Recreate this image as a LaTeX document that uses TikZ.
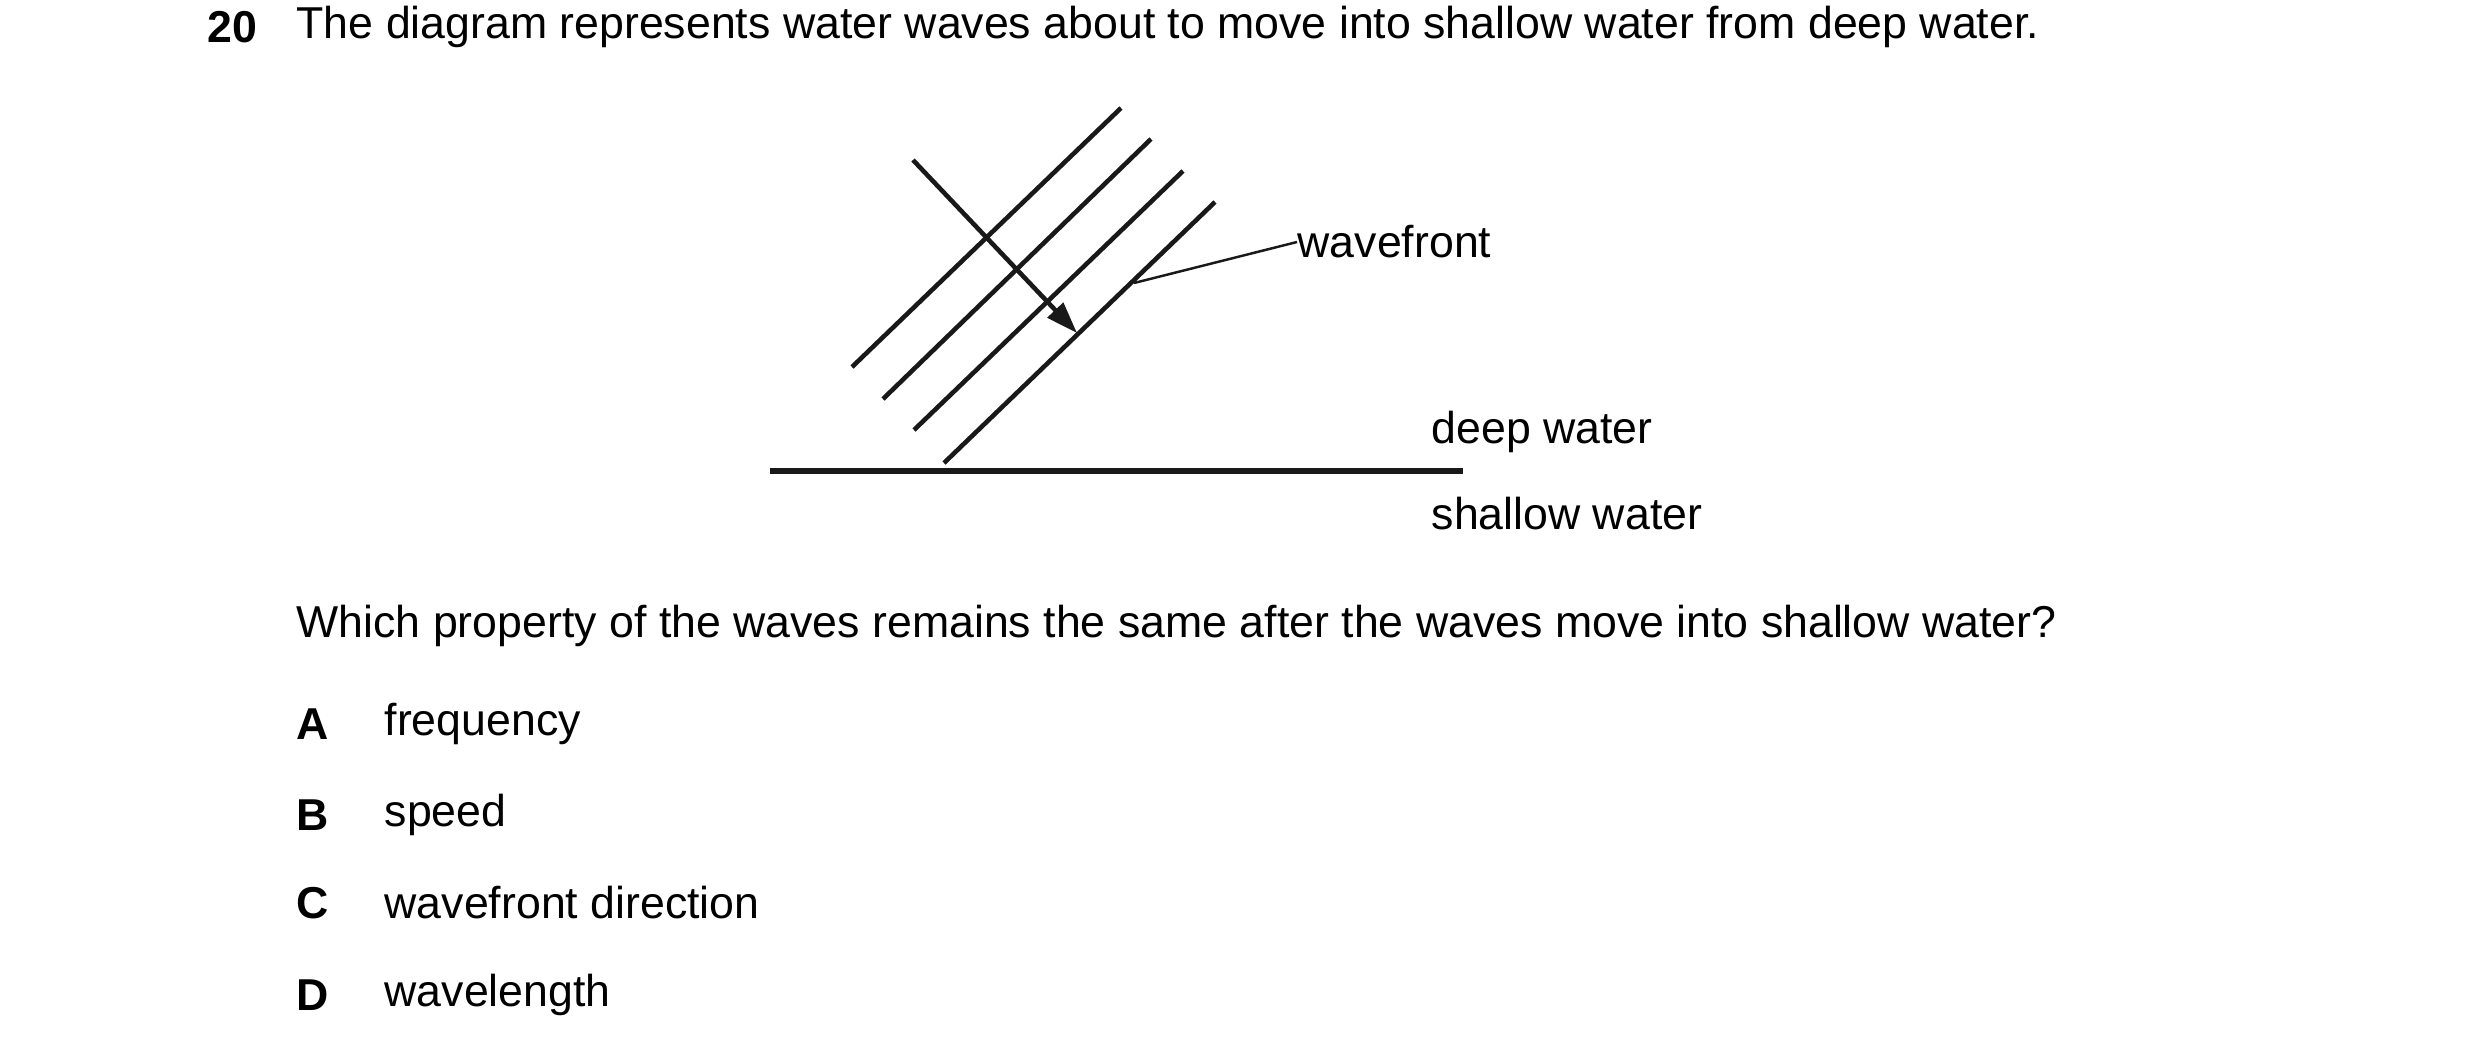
\documentclass[tikz,border=0pt]{standalone}
\usepackage{fontspec}
\setmainfont{Liberation Sans}
\usetikzlibrary{arrows.meta}
\begin{document}
\begin{tikzpicture}[x=0.01cm,y=-0.01cm,
  txt/.style={anchor=west,inner sep=0pt,font=\fontsize{12.7}{15}\selectfont},
  wf/.style={line width=1.3pt,black!90},
  lead/.style={line width=0.7pt,black!90}]
\useasboundingbox (0,0) rectangle (2480,1060);
\node[txt,font=\fontsize{12.7}{15}\selectfont\bfseries] (num) at (207,27) {20};
\node[txt] (t) at (296,27) {The diagram represents water waves about to move into shallow water from deep water.};
\coordinate (a1) at (852,367); \coordinate (b1) at (1121,108);
\coordinate (a2) at (883,399); \coordinate (b2) at (1151,139);
\coordinate (a3) at (914,430); \coordinate (b3) at (1183,171);
\coordinate (a4) at (944,463); \coordinate (b4) at (1215,202);
\draw[wf] (a1)--(b1); \draw[wf] (a2)--(b2); \draw[wf] (a3)--(b3); \draw[wf] (a4)--(b4);
\coordinate (r0) at (913,160); \coordinate (r1) at (1077,333);
\draw[wf,-{Triangle[length=9pt,width=6pt]}] (r0)--(r1);
\node[txt] (wfl) at (1297,242) {wavefront};
\coordinate (l0) at (1134,283);
\draw[lead] (l0)--(wfl.west);
\coordinate (s0) at (770,471); \coordinate (s1) at (1463,471);
\draw[line width=1.6pt,black!90] (s0)--(s1);
\node[txt] (deep) at (1431,432) {deep water};
\node[txt] (shal) at (1431,514) {shallow water};
\node[txt] (q) at (296,626) {Which property of the waves remains the same after the waves move into shallow water?};
\foreach \L/\T/\y in {A/frequency/724,B/speed/815,C/wavefront direction/903,D/wavelength/995}{
  \node[txt,font=\fontsize{12.7}{15}\selectfont\bfseries] (l\L) at (296,\y) {\L};
  \node[txt] (o\L) at (384,\y) {\T};
}
\end{tikzpicture}
\end{document}
